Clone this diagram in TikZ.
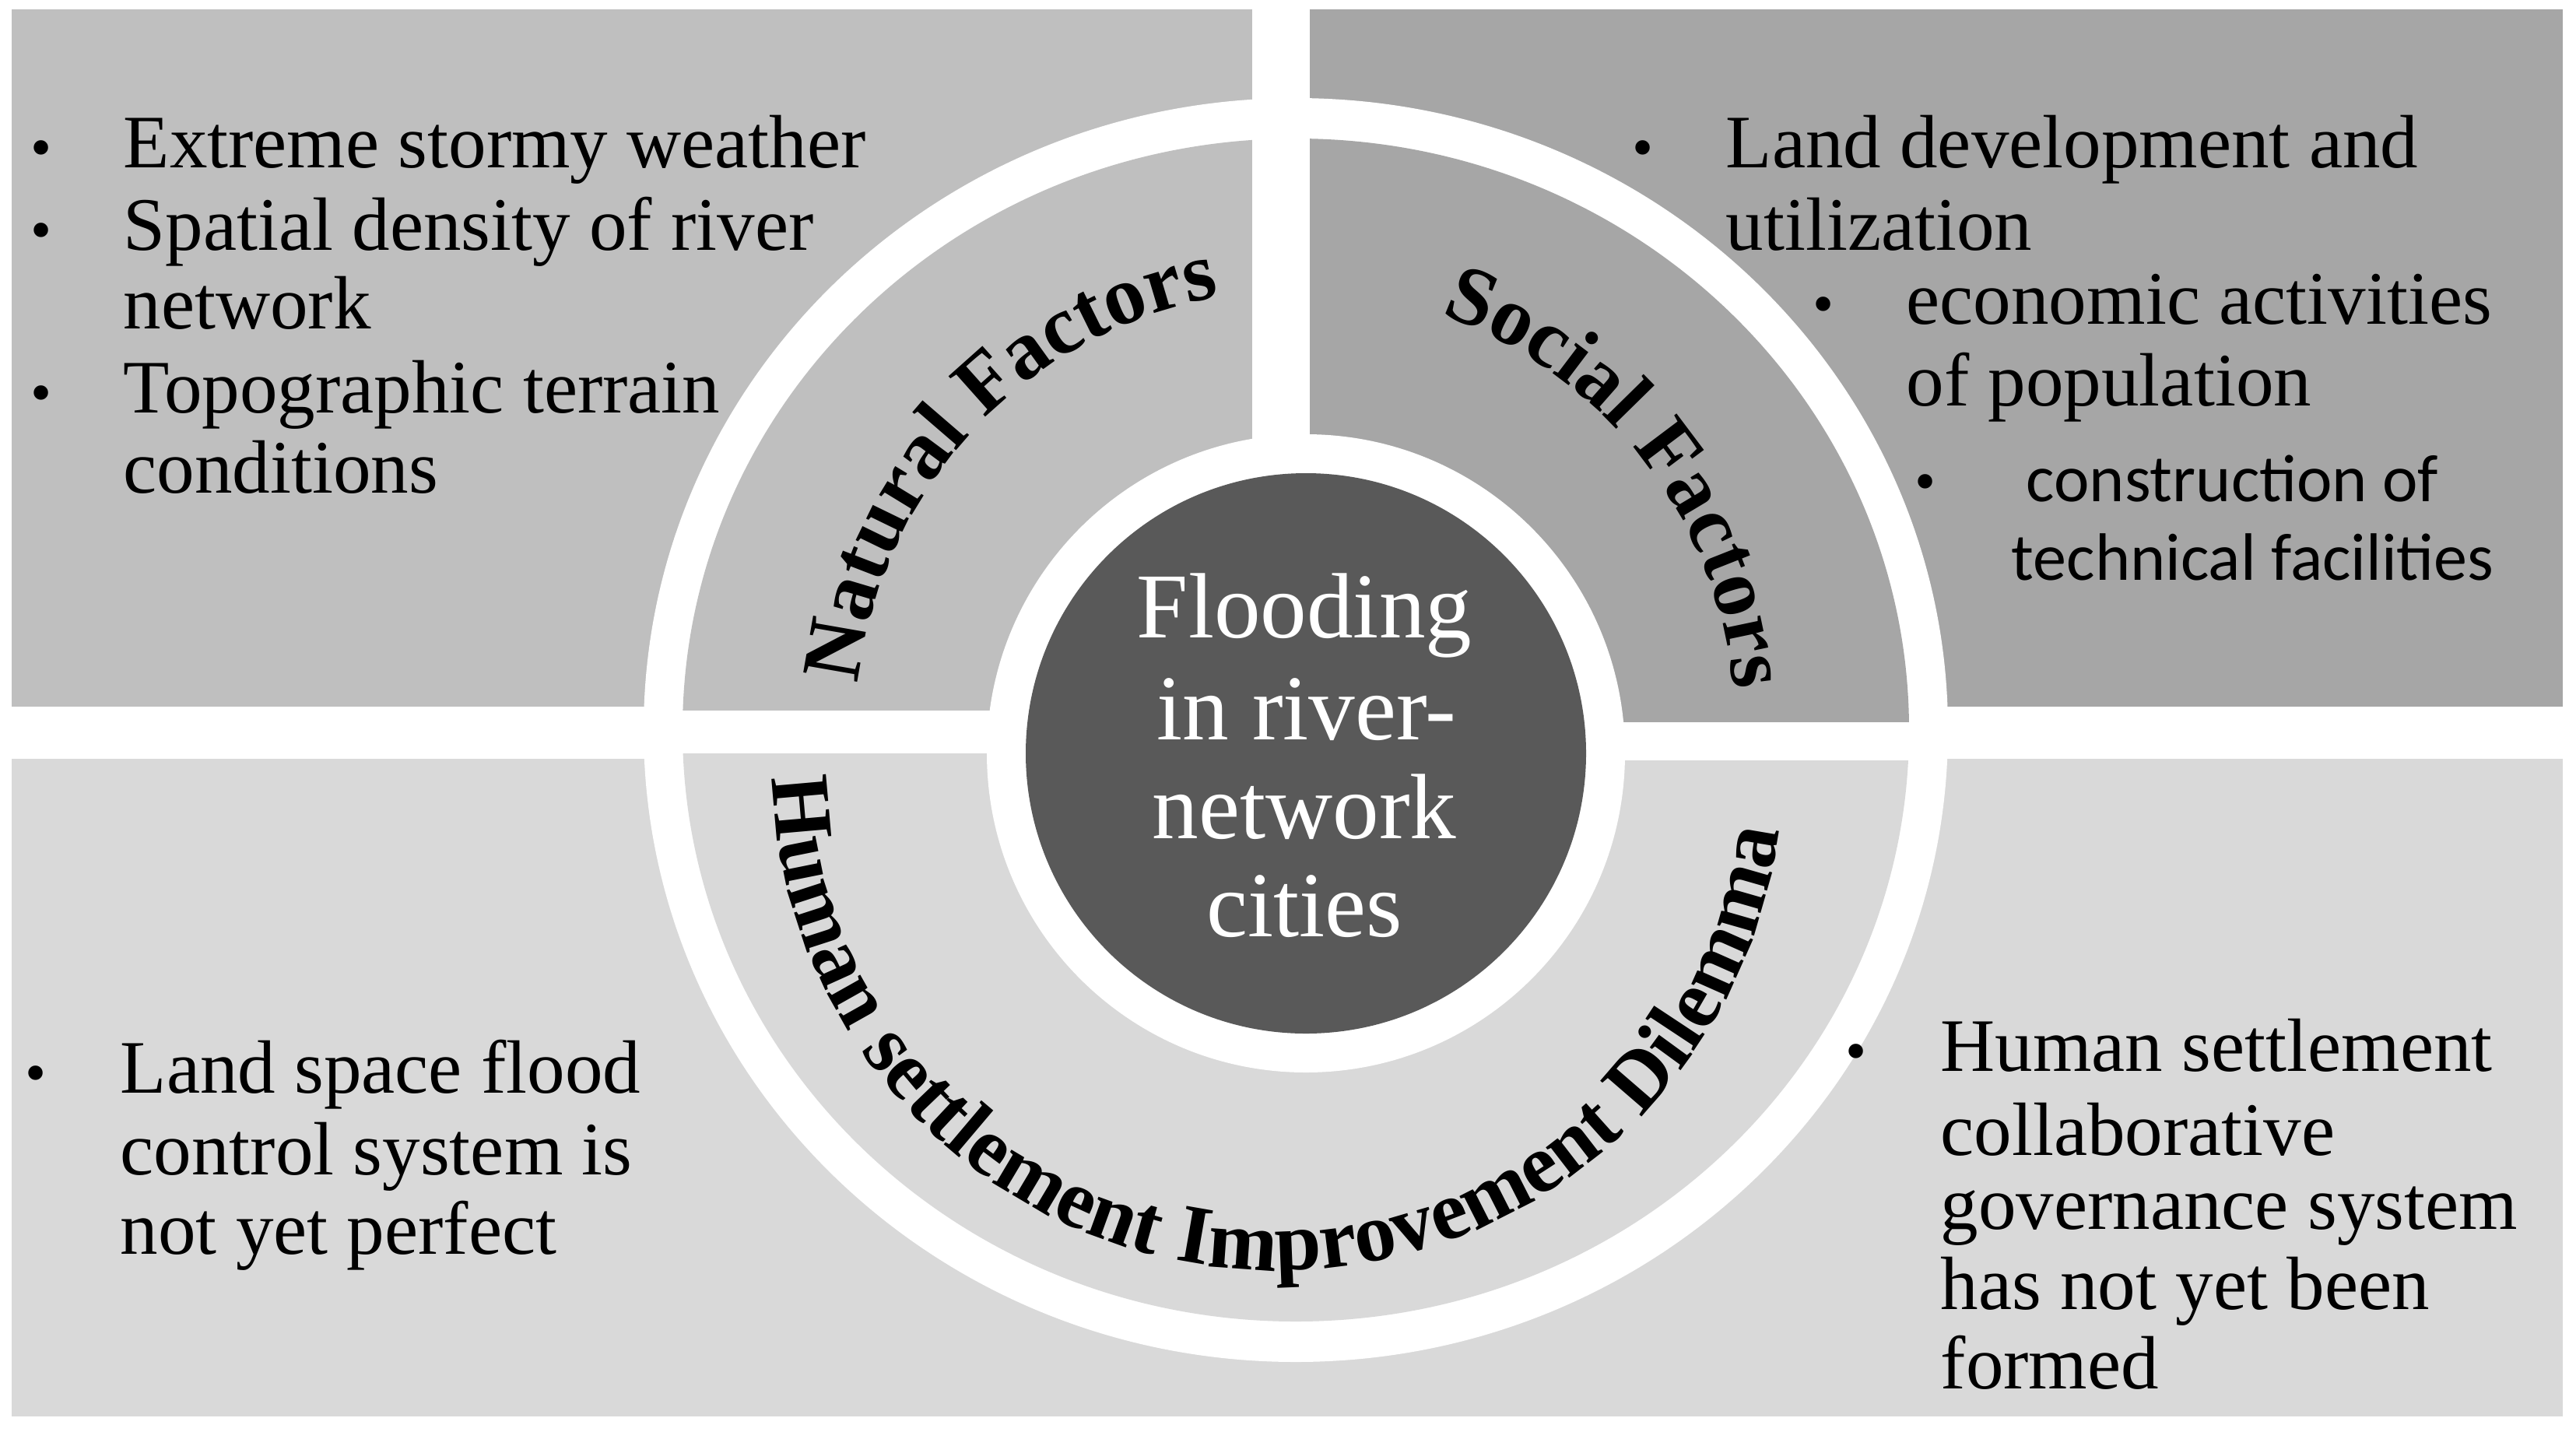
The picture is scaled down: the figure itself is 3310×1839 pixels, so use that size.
\documentclass[tikz,border=0pt]{standalone}
\usepackage{fontspec}
\setmainfont{Liberation Serif}
\newfontfamily\carlito{Carlito}
\usetikzlibrary{decorations.text}
\definecolor{tlgray}{RGB}{191,191,191}
\definecolor{trgray}{RGB}{166,166,166}
\definecolor{btgray}{RGB}{217,217,217}
\definecolor{darkc}{RGB}{89,89,89}
\newcommand{\arcfnt}{\bfseries\fontsize{30.5}{33}\selectfont}
\begin{document}
\begin{tikzpicture}[x=0.01cm,y=0.01cm,
  item/.style={anchor=base west, inner sep=0pt, font=\fontsize{27.6}{30}\selectfont},
  dot/.style={anchor=base, inner sep=0pt, font=\fontsize{22}{24}\selectfont},
  sitem/.style={anchor=base west, inner sep=0pt, font=\carlito\fontsize{24.5}{27}\selectfont},
  ctext/.style={anchor=base, inner sep=0pt, text=white, font=\fontsize{33.9}{36}\selectfont}]
\fill[white] (0,0) rectangle (3310,-1839);
\path[use as bounding box] (0,0) rectangle (3310,-1839);
% background panels
\fill[tlgray] (15,-12) rectangle (1609,-908);
\fill[trgray] (1683,-12) rectangle (3293,-908);
\fill[btgray] (15,-975) rectangle (3293,-1820);
% ring
\coordinate (O) at (1665,-938);
\fill[white] (O) ellipse [x radius=838, y radius=812];
\begin{scope}
\clip (O) ellipse [x radius=788, y radius=760];
\fill[tlgray] (800,-100) rectangle (1609,-913);
\fill[trgray] (1683,-100) rectangle (2520,-928);
\fill[btgray] (800,-968) -- (1665,-968) -- (1665,-977) -- (2520,-977)
  -- (2520,-1800) -- (800,-1800) -- cycle;
\end{scope}
% centre
\coordinate (C) at (1678,-968);
\fill[white] (C) circle [radius=410];
\fill[darkc] (C) circle [radius=360];
\node[ctext] (c1) at (1676,-819) {Flooding};
\node[ctext] (c2) at (1679,-950) {in river-};
\node[ctext] (c3) at (1676,-1077) {network};
\node[ctext] (c4) at (1676,-1203) {cities};
% arc labels
\path[decorate, decoration={text along path, text align=center,
  text={|\arcfnt|Natural Factors}}]
  ([shift={(177:565)}]O) arc[start angle=177, end angle=97, radius=565];
\path[decorate, decoration={text along path, text align=center,
  text={|\arcfnt|Social Factors}}]
  ([shift={(78:565)}]O) arc[start angle=78, end angle=-2, radius=565];
\coordinate (O2) at (1642,-983);
\path[decorate, decoration={text along path, text align=center,
  text={|\arcfnt|Human settlement Improvement Dilemma}}]
  ([shift={(177:649)}]O2) arc[start angle=177, end angle=357, radius=649];
% top-left list
\node[dot] (b1) at (53,-215) {\textbullet};
\node[item] (t1) at (158,-215) {Extreme stormy weather};
\node[dot] (b2) at (53,-321) {\textbullet};
\node[item] (t2a) at (158,-321) {Spatial density of river};
\node[item] (t2b) at (158,-422) {network};
\node[dot] (b3) at (53,-530) {\textbullet};
\node[item] (t3a) at (158,-530) {Topographic terrain};
\node[item] (t3b) at (158,-633) {conditions};
% top-right list
\node[dot] (b4) at (2111,-215) {\textbullet};
\node[item] (t4a) at (2217,-215) {Land development and};
\node[item] (t4b) at (2217,-321) {utilization};
\node[dot] (b5) at (2343,-416) {\textbullet};
\node[item] (t5a) at (2449,-416) {economic activities};
\node[item] (t5b) at (2449,-521) {of population};
\node[dot] (b6) at (2474,-644) {\textbullet};
\node[sitem] (t6a) at (2603,-644) {construction of};
\node[sitem] (t6b) at (2584,-745) {technical facilities};
% bottom-left list
\node[dot] (b7) at (46,-1404) {\textbullet};
\node[item] (t7a) at (154,-1404) {Land space flood};
\node[item] (t7b) at (154,-1509) {control system is};
\node[item] (t7c) at (154,-1611) {not yet perfect};
% bottom-right list
\node[dot] (b8) at (2385,-1376) {\textbullet};
\node[item] (t8a) at (2493,-1376) {Human settlement};
\node[item] (t8b) at (2493,-1484) {collaborative};
\node[item] (t8c) at (2493,-1579) {governance system};
\node[item] (t8d) at (2493,-1682) {has not yet been};
\node[item] (t8e) at (2493,-1784) {formed};
\end{tikzpicture}
\end{document}
